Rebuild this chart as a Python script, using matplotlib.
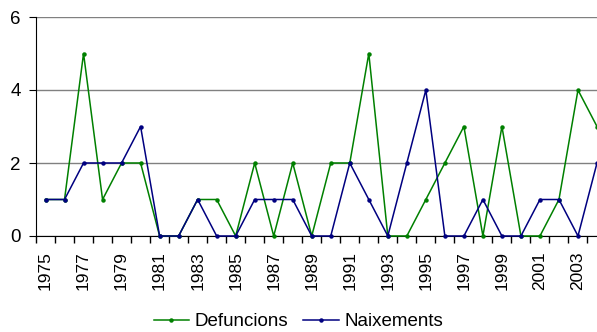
import matplotlib.pyplot as plt
import numpy as np

plt.rcParams['font.family'] = ['Liberation Sans', 'DejaVu Sans']

years = list(range(1975, 2005))
defuncions = [1, 1, 5, 1, 2, 2, 0, 0, 1, 1, 0, 2, 0, 2, 0,
              2, 2, 5, 0, 0, 1, 2, 3, 0, 3, 0, 0, 1, 4, 3]
naixements = [1, 1, 2, 2, 2, 3, 0, 0, 1, 0, 0, 1, 1, 1, 0,
              0, 2, 1, 0, 2, 4, 0, 0, 1, 0, 0, 1, 1, 0, 2]

fig = plt.figure(figsize=(5.97, 3.32), dpi=100)
ax = fig.add_axes([36 / 597, 1 - 236 / 332, 561 / 597, 219 / 332])

x = np.arange(len(years))
ax.plot(x, defuncions, color='#008000', lw=1.1, marker='o', ms=2.2,
        label='Defuncions', clip_on=False, zorder=3)
ax.plot(x, naixements, color='#000080', lw=1.1, marker='o', ms=2.2,
        label='Naixements', clip_on=False, zorder=3)

ax.set_xlim(-0.5, 29)
ax.set_ylim(0, 6)
ax.set_yticks([0, 2, 4, 6])
ax.yaxis.grid(True, color='#808080', lw=1)
ax.set_axisbelow(True)

# category boundaries get the tick marks, year labels sit on the points
ax.set_xticks(np.arange(-0.5, 29.5, 1))
ax.set_xticklabels([])
ax.set_xticks(x[::2], minor=True)
ax.set_xticklabels([str(y) for y in years[::2]], minor=True, rotation=90,
                   fontsize=12.5)
ax.tick_params(axis='x', which='major', length=5, color='black', width=1)
ax.tick_params(axis='x', which='minor', length=0, pad=11)
ax.tick_params(axis='y', length=5, labelsize=13.5, pad=6)

for side in ['top', 'right']:
    ax.spines[side].set_visible(False)
ax.spines['left'].set_color('black')
ax.spines['bottom'].set_color('black')

fig.legend(loc='lower center', bbox_to_anchor=(0.5, -0.045), ncol=2,
           frameon=False, fontsize=13.5, handlelength=1.9, handletextpad=0.3,
           columnspacing=0.8)

fig.savefig('out.png', dpi=100)
